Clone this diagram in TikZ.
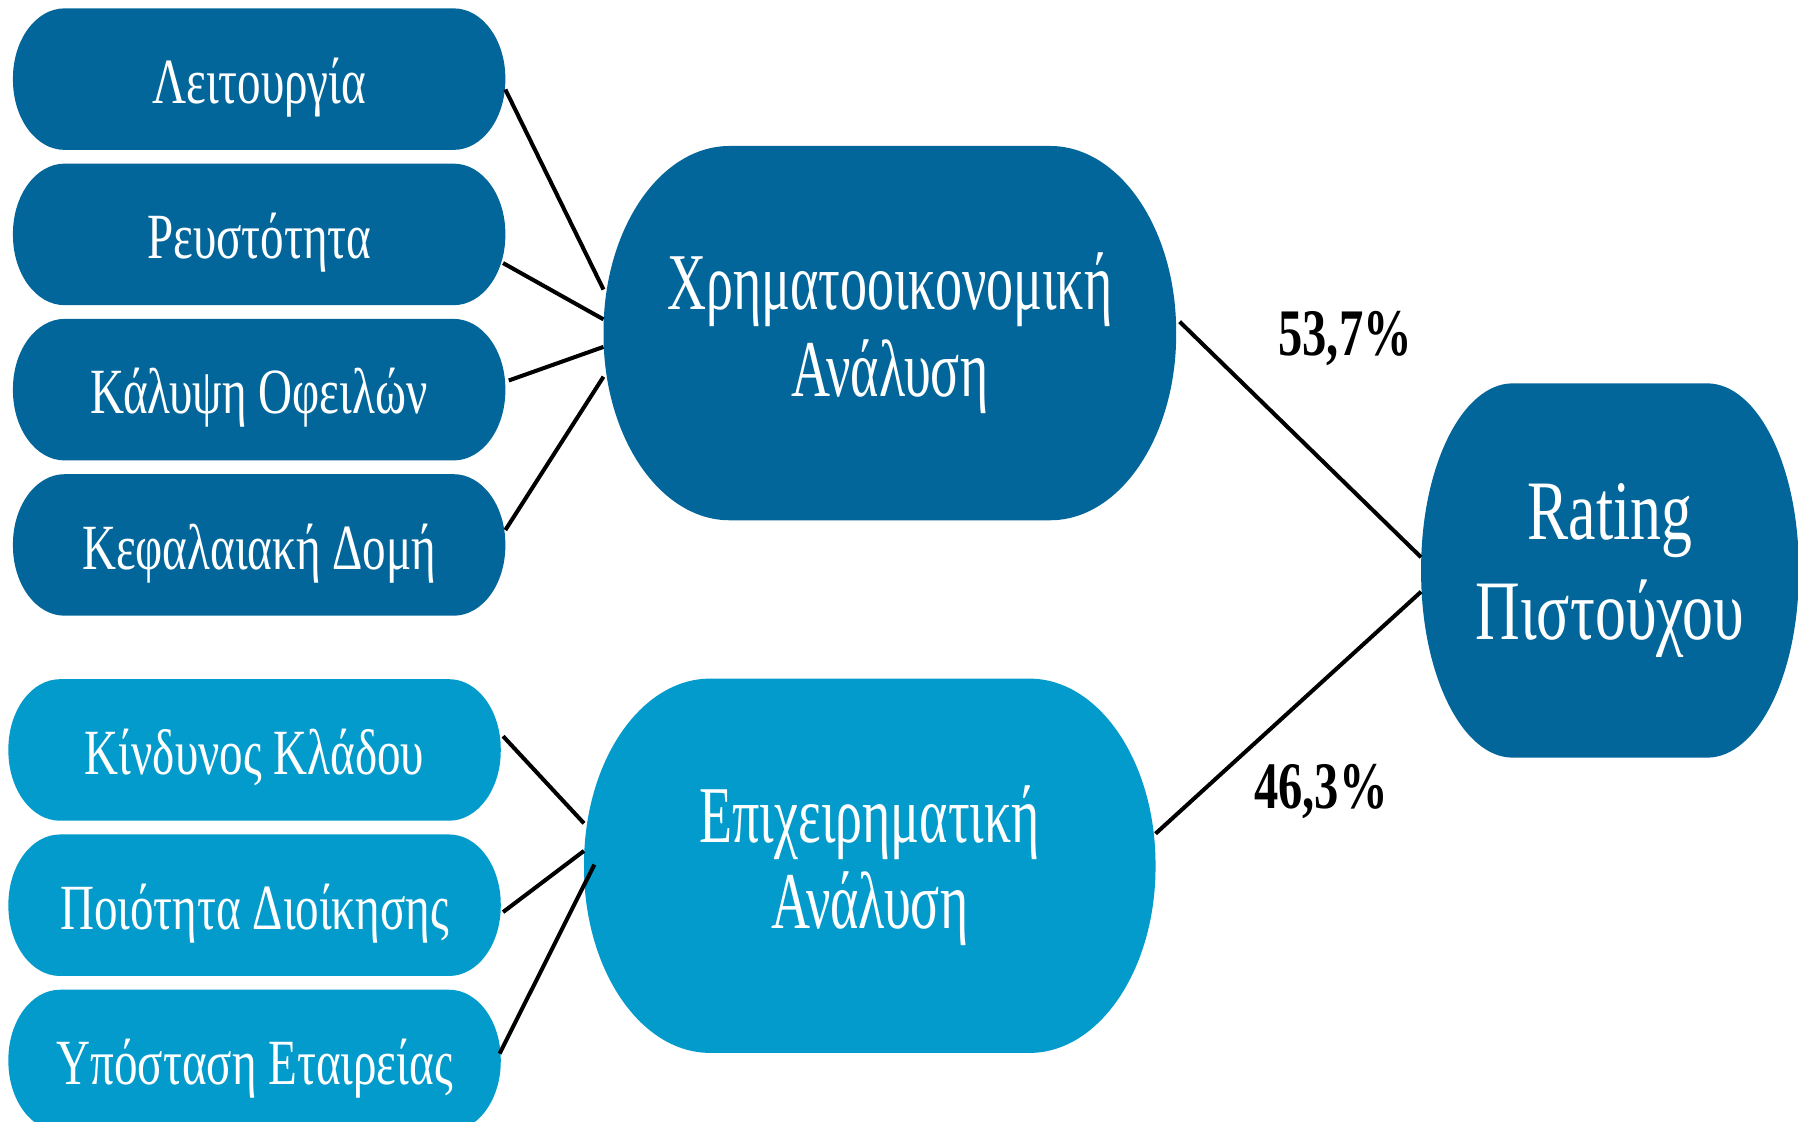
\documentclass[tikz,border=0pt]{standalone}
\usepackage{fontspec}
\setmainfont{Liberation Serif}[FakeStretch=0.73]
\newfontfamily\tallserif{Liberation Serif}[FakeStretch=0.67]
\usetikzlibrary{positioning,backgrounds}
\definecolor{deepblue}{HTML}{03669A}
\definecolor{skyblue}{HTML}{039BCB}
\tikzset{
  itembox/.style={
    minimum width=4.28cm, minimum height=1.22cm,
    text=white, inner sep=0pt,
    text height=0.62cm, text depth=0.2cm,
    font=\fontsize{16}{18}\selectfont
  },
  groupbox/.style={
    minimum width=4.98cm, minimum height=3.25cm,
    text=white, align=center, inner sep=0pt,
    font=\tallserif\fontsize{20}{21.5}\selectfont
  },
  link/.style={black, line width=1pt},
  share/.style={font=\fontsize{16.5}{17}\selectfont\bfseries},
}
% fill behind a node: rectangle with elliptic corners
% #1 node, #2 colour, #3 x radius, #4 y radius
\newcommand\pillfill[4]{%
  \fill[#2] ([xshift=#3]#1.north west) -- ([xshift=-#3]#1.north east)
    arc[start angle=90, end angle=0, x radius=#3, y radius=#4]
    -- ([yshift=#4]#1.south east)
    arc[start angle=0, end angle=-90, x radius=#3, y radius=#4]
    -- ([xshift=#3]#1.south west)
    arc[start angle=270, end angle=180, x radius=#3, y radius=#4]
    -- ([yshift=-#4]#1.north west)
    arc[start angle=180, end angle=90, x radius=#3, y radius=#4]
    -- cycle;}

\begin{document}
\begin{tikzpicture}
  \useasboundingbox (0,0) rectangle (15.68,-9.78);

  % financial factors
  \node[itembox] (lit) at (2.26,-0.69) {Λειτουργία};
  \node[itembox, below=0.12cm of lit] (rev) {Ρευστότητα};
  \node[itembox, below=0.12cm of rev] (kal) {Κάλυψη Οφειλών};
  \node[itembox, below=0.12cm of kal] (kef) {Κεφαλαιακή Δομή};

  % business factors
  \node[itembox] (kin) at (2.22,-6.54) {Κίνδυνος Κλάδου};
  \node[itembox, below=0.12cm of kin] (poi) {Ποιότητα Διοίκησης};
  \node[itembox, below=0.12cm of poi] (yp) {Υπόσταση Εταιρείας};

  % the two analyses and the final rating
  \node[groupbox] (fin) at (7.76,-2.905) {Χρηματοοικονομική\\Ανάλυση};
  \node[groupbox, minimum width=4.97cm] (bus) at (7.585,-7.55) {Επιχειρηματική\\Ανάλυση};
  \node[groupbox, minimum width=3.28cm, font=\fontsize{21}{25}\selectfont]
    (rat) at (14.04,-4.975) {Rating\\Πιστούχου};

  \begin{scope}[on background layer]
    \foreach \n in {lit,rev,kal,kef}
      {\pillfill{\n}{deepblue}{0.45cm}{0.61cm}}
    \foreach \n in {kin,poi,yp}
      {\pillfill{\n}{skyblue}{0.45cm}{0.61cm}}
    \pillfill{fin}{deepblue}{1.1cm}{1.62cm}
    \pillfill{bus}{skyblue}{1.1cm}{1.62cm}
    \pillfill{rat}{deepblue}{0.8cm}{1.62cm}
  \end{scope}

  % connectors
  \draw[link] ([yshift=-0.09cm]lit.east) -- ([yshift=0.38cm]fin.west);
  \draw[link] ([xshift=-0.02cm,yshift=-0.25cm]rev.east) -- ([yshift=0.12cm]fin.west);
  \draw[link] ([xshift=0.03cm,yshift=0.08cm]kal.east) -- ([yshift=-0.12cm]fin.west);
  \draw[link] ([yshift=0.13cm]kef.east) -- ([yshift=-0.38cm]fin.west);

  \draw[link] ([xshift=0.02cm,yshift=0.12cm]kin.east) -- ([yshift=0.37cm]bus.west);
  \draw[link] ([xshift=0.02cm,yshift=-0.06cm]poi.east) -- ([yshift=0.13cm]bus.west);
  \draw[link] ([xshift=-0.01cm,yshift=0.06cm]yp.east) -- ([xshift=0.09cm,yshift=0.01cm]bus.west);

  \draw[link] ([xshift=0.03cm,yshift=0.10cm]fin.east) -- ([yshift=0.115cm]rat.west);
  \draw[link] ([yshift=0.28cm]bus.east) -- ([yshift=-0.185cm]rat.west);

  \node[share] (pfin) at (11.73,-2.95) {53,7\%};
  \node[share] (pbus) at (11.52,-6.90) {46,3\%};
\end{tikzpicture}
\end{document}
